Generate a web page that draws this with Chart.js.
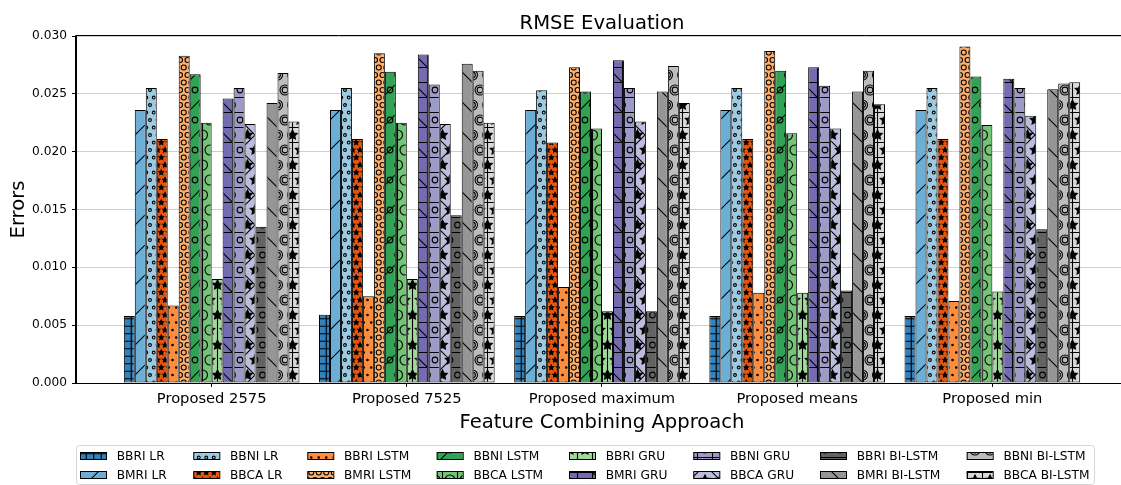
<!DOCTYPE html>
<html>
<head>
<meta charset="utf-8">
<script src="https://cdn.jsdelivr.net/npm/chart.js@4.4.1/dist/chart.umd.min.js"></script>
<style>
  html, body { margin: 0; padding: 0; overflow: hidden; background: #ffffff; }
  canvas { display: block; }
</style>
</head>
<body>
<canvas id="rmse" width="1150" height="485"></canvas>
<script>
// ---- data ---------------------------------------------------------------
const categories = ['Proposed 2575', 'Proposed 7525', 'Proposed maximum', 'Proposed means', 'Proposed min'];

const seriesNames = [
  'BBRI LR', 'BMRI LR', 'BBNI LR', 'BBCA LR',
  'BBRI LSTM', 'BMRI LSTM', 'BBNI LSTM', 'BBCA LSTM',
  'BBRI GRU', 'BMRI GRU', 'BBNI GRU', 'BBCA GRU',
  'BBRI BI-LSTM', 'BMRI BI-LSTM', 'BBNI BI-LSTM', 'BBCA BI-LSTM'
];

const bbriLR      = [0.0058, 0.0059, 0.0058, 0.0058, 0.0058];
const bmriLR      = [0.0236, 0.0236, 0.0236, 0.0236, 0.0236];
const bbniLR      = [0.0255, 0.0255, 0.0253, 0.0255, 0.0255];
const bbcaLR      = [0.0211, 0.0211, 0.0208, 0.0211, 0.0211];
const bbriLSTM    = [0.0067, 0.0075, 0.0083, 0.0078, 0.0071];
const bmriLSTM    = [0.0283, 0.0285, 0.0273, 0.0287, 0.0291];
const bbniLSTM    = [0.0267, 0.0269, 0.0252, 0.0270, 0.0265];
const bbcaLSTM    = [0.0225, 0.0225, 0.0220, 0.0216, 0.0223];
const bbriGRU     = [0.0090, 0.0090, 0.0062, 0.0078, 0.0079];
const bmriGRU     = [0.0246, 0.0284, 0.0279, 0.0273, 0.0263];
const bbniGRU     = [0.0255, 0.0258, 0.0255, 0.0257, 0.0255];
const bbcaGRU     = [0.0224, 0.0224, 0.0226, 0.0220, 0.0231];
const bbriBiLSTM  = [0.0135, 0.0145, 0.0062, 0.0080, 0.0133];
const bmriBiLSTM  = [0.0242, 0.0276, 0.0252, 0.0252, 0.0254];
const bbniBiLSTM  = [0.0268, 0.0270, 0.0274, 0.0270, 0.0259];
const bbcaBiLSTM  = [0.0226, 0.0225, 0.0242, 0.0241, 0.0260];

const seriesValues = [
  bbriLR, bmriLR, bbniLR, bbcaLR,
  bbriLSTM, bmriLSTM, bbniLSTM, bbcaLSTM,
  bbriGRU, bmriGRU, bbniGRU, bbcaGRU,
  bbriBiLSTM, bmriBiLSTM, bbniBiLSTM, bbcaBiLSTM
];

const yTicks = [0, 0.005, 0.010, 0.015, 0.020, 0.025, 0.030];

// ---- styles -------------------------------------------------------------
const seriesColors = [
  '#3182bd', '#6baed6', '#9ecae1', '#e6550d',
  '#fd8d3c', '#fdae6b', '#31a354', '#74c476',
  '#a1d99b', '#756bb1', '#9e9ac8', '#bcbddc',
  '#636363', '#969696', '#bdbdbd', '#d9d9d9'
];
const seriesHatches = [
  '++', '/', 'oo', '**',
  '..', 'OO', '/o', 'O|',
  '|*', '\\+', '+o', 'x*',
  'o-', '\\', 'Oo', '+*'
];

const FONT = '"DejaVu Sans", "Liberation Sans", sans-serif';
const HATCH_UNIT = 90;      // size of one hatch repeat cell, px
const HATCH_DENSITY = 6;
const HATCH_LW = 1.1;

// Builds a repeating hatch fill: a coloured cell with black line / shape marks.
function makeHatch(ctx, color, hatch) {
  const U = HATCH_UNIT;
  const cv = document.createElement('canvas');
  cv.width = U; cv.height = U;
  const g = cv.getContext('2d');
  g.fillStyle = color;
  g.fillRect(0, 0, U, U);
  g.strokeStyle = '#000';
  g.fillStyle = '#000';
  g.lineWidth = HATCH_LW;
  g.lineCap = 'butt';
  const count = ch => hatch.split(ch).length - 1;
  const X = x => x * U;
  const Y = y => (1 - y) * U;

  const segs = [];
  let n = (count('-') + count('+')) * HATCH_DENSITY;
  for (let k = 0; k < n; k++) { const y = (k + 0.5) / n; segs.push([0, y, 1, y]); }
  n = (count('|') + count('+')) * HATCH_DENSITY;
  for (let k = 0; k < n; k++) { const x = (k + 0.5) / n; segs.push([x, 0, x, 1]); }
  n = (count('/') + count('x') + count('X')) * HATCH_DENSITY;
  for (let k = 0; k <= n && n > 0; k++) { const s = -0.5 + k / n; segs.push([s, -s, 1 + s, 1 - s]); }
  n = (count('\\') + count('x') + count('X')) * HATCH_DENSITY;
  for (let k = 0; k <= n && n > 0; k++) { const s = -0.5 + k / n; segs.push([s, 1 + s, 1 + s, s]); }
  g.beginPath();
  for (const [x0, y0, x1, y1] of segs) {
    g.moveTo(X(x0), Y(y0));
    g.lineTo(X(x1), Y(y1));
  }
  g.stroke();

  const shapeKinds = [
    { rows: count('o') * HATCH_DENSITY, size: 0.2, kind: 'ring' },
    { rows: count('O') * HATCH_DENSITY, size: 0.35, kind: 'ring' },
    { rows: count('.') * HATCH_DENSITY, size: 0.1, kind: 'dot' },
    { rows: count('*') * HATCH_DENSITY, size: 1 / 3, kind: 'star' }
  ];
  for (const sk of shapeKinds) {
    if (!sk.rows) continue;
    const off = 1 / sk.rows;
    const r = sk.size * off * U;
    for (let row = 0; row <= sk.rows; row++) {
      const cols = [];
      if (row % 2 === 0) { for (let i = 0; i <= sk.rows; i++) cols.push(i * off); }
      else { for (let i = 0; i < sk.rows; i++) cols.push(off / 2 + i * off); }
      for (const cx of cols) {
        const px = X(cx), py = Y(row * off);
        g.beginPath();
        if (sk.kind === 'star') {
          for (let v = 0; v < 10; v++) {
            const a = Math.PI / 2 + v * Math.PI / 5;
            const rr = v % 2 === 0 ? r : r * 0.5;
            const qx = px + rr * Math.cos(a), qy = py - rr * Math.sin(a);
            if (v === 0) g.moveTo(qx, qy); else g.lineTo(qx, qy);
          }
          g.closePath();
          g.fill();
          g.stroke();
        } else if (sk.kind === 'dot') {
          g.arc(px, py, r, 0, Math.PI * 2);
          g.fill();
          g.stroke();
        } else {
          g.arc(px, py, r * 0.95, 0, Math.PI * 2);
          g.stroke();
        }
      }
    }
  }
  return ctx.createPattern(cv, 'repeat');
}

const canvas = document.getElementById('rmse');
const ctx = canvas.getContext('2d');
const fills = seriesColors.map((c, i) => makeHatch(ctx, c, seriesHatches[i]));

// Frame lines of the plot area, drawn above the bars.
const framePlugin = {
  id: 'frame',
  afterDatasetsDraw(chart) {
    const { ctx, chartArea: a } = chart;
    ctx.save();
    ctx.strokeStyle = '#000';
    ctx.lineWidth = 1;
    ctx.beginPath();
    ctx.moveTo(a.left - 0.5, a.top - 0.5);
    ctx.lineTo(a.right + 0.5, a.top - 0.5);
    ctx.lineTo(a.right + 0.5, a.bottom + 0.5);
    ctx.lineTo(a.left - 0.5, a.bottom + 0.5);
    ctx.closePath();
    ctx.stroke();
    ctx.restore();
  }
};

// Title centred over the plot area.
const titlePlugin = {
  id: 'plotTitle',
  afterDraw(chart) {
    const { ctx, chartArea: a } = chart;
    ctx.save();
    ctx.font = '19.6px ' + FONT;
    ctx.fillStyle = '#000';
    ctx.textAlign = 'center';
    ctx.textBaseline = 'alphabetic';
    ctx.fillText('RMSE Evaluation', (a.left + a.right) / 2, 28.5);
    ctx.restore();
  }
};

// Eight-column legend, filled column by column.
const legendPlugin = {
  id: 'gridLegend',
  afterDraw(chart) {
    const { ctx } = chart;
    const colX = [80, 193.3, 307.3, 436.7, 569, 693.3, 820, 966.7];
    const rowY = [456, 475];
    ctx.save();
    const bx = 76.5, by = 445.5, bw = 1018, bh = 39, rad = 3;
    ctx.beginPath();
    ctx.moveTo(bx + rad, by);
    ctx.arcTo(bx + bw, by, bx + bw, by + bh, rad);
    ctx.arcTo(bx + bw, by + bh, bx, by + bh, rad);
    ctx.arcTo(bx, by + bh, bx, by, rad);
    ctx.arcTo(bx, by, bx + bw, by, rad);
    ctx.closePath();
    ctx.fillStyle = 'rgba(255,255,255,0.8)';
    ctx.fill();
    ctx.strokeStyle = '#d6d6d6';
    ctx.lineWidth = 1;
    ctx.stroke();

    ctx.font = '12.2px ' + FONT;
    ctx.textAlign = 'left';
    ctx.textBaseline = 'middle';
    chart.data.datasets.forEach((ds, i) => {
      const col = Math.floor(i / 2), row = i % 2;
      const x = colX[col], y = rowY[row];
      ctx.fillStyle = ds.backgroundColor;
      ctx.fillRect(x, y - 3.5, 26, 7);
      ctx.strokeStyle = '#000';
      ctx.strokeRect(x + 0.5, y - 3.5, 26, 7);
      ctx.fillStyle = '#000';
      ctx.fillText(ds.label, x + 36.7, y + 0.5);
    });
    ctx.restore();
  }
};

Chart.defaults.color = '#000';
Chart.defaults.font.family = FONT;

new Chart(ctx, {
  type: 'bar',
  data: {
    datasets: seriesNames.map((name, i) => ({
      label: name,
      data: seriesValues[i].map((v, j) => ({ x: j, y: v })),
      backgroundColor: fills[i],
      borderColor: '#000',
      borderWidth: 1,
      borderSkipped: false,
      categoryPercentage: 0.9,
      barPercentage: 1.0
    }))
  },
  options: {
    responsive: false,
    animation: false,
    devicePixelRatio: 1,
    layout: { padding: { left: 0, right: 22, top: 36, bottom: 0 } },
    plugins: {
      legend: { display: false },
      title: { display: false },
      tooltip: { enabled: false }
    },
    scales: {
      x: {
        type: 'linear',
        offset: false,
        min: -0.695,
        max: 4.695,
        afterBuildTicks(scale) { scale.ticks = categories.map((_, i) => ({ value: i })); },
        afterFit(scale) { scale.height = 102; },
        ticks: {
          autoSkip: false,
          maxRotation: 0,
          padding: 3.4,
          font: { size: 14.7 },
          callback: v => categories[v]
        },
        grid: { display: true, offset: false, drawOnChartArea: false, drawTicks: true, tickLength: 4, tickColor: '#000', tickWidth: 1 },
        border: { display: true, color: '#000', width: 1 },
        title: {
          display: true,
          text: 'Feature Combining Approach',
          font: { size: 19.6 },
          padding: { top: 0, bottom: 50.8 }
        }
      },
      y: {
        min: 0,
        max: 0.03,
        afterBuildTicks(scale) { scale.ticks = yTicks.map(v => ({ value: v })); },
        afterFit(scale) { scale.width = 76; },
        ticks: {
          padding: 5,
          font: { size: 12.2 },
          callback: v => v.toFixed(3)
        },
        grid: { color: '#cfcfcf', lineWidth: 1, tickLength: 4, tickColor: '#000', tickWidth: 1 },
        border: { display: true, color: '#000', width: 1 },
        title: {
          display: true,
          text: 'Errors',
          font: { size: 19.6 },
          padding: { top: 7, bottom: 0 }
        }
      }
    }
  },
  plugins: [framePlugin, titlePlugin, legendPlugin]
});
</script>
</body>
</html>
